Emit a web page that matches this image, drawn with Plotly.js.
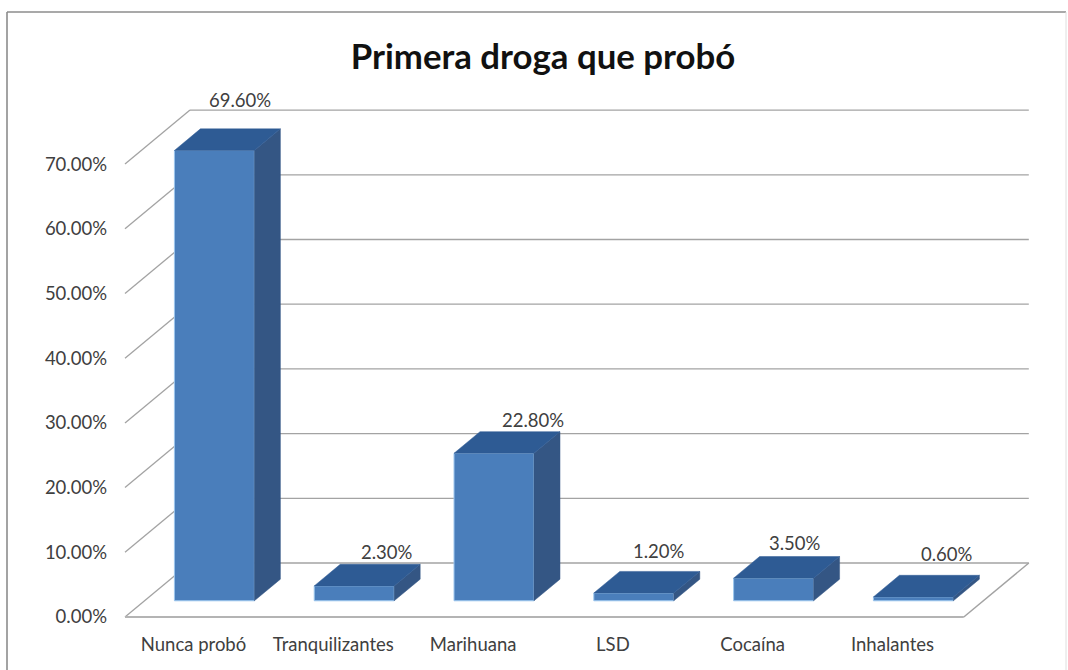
<!DOCTYPE html>
<html><head><meta charset="utf-8">
<script src="https://cdn.plot.ly/plotly-3.0.1.min.js"></script>
<style>html,body{margin:0;padding:0;background:#fff;overflow:hidden}#chart{width:1068px;height:670px}</style>
</head><body><div id="chart"></div>
<script>
const categories = ["Nunca probó","Tranquilizantes","Marihuana","LSD","Cocaína","Inhalantes"];
const values = [69.6,2.3,22.8,1.2,3.5,0.6];
const yTicks = [0,10,20,30,40,50,60,70];
const titleText = "Primera droga que probó";

// Hand placement of the data labels, in pixels from each bar's back top corner area
const labelShiftX = [0,7,13,-1,-5,8];
const labelShiftY = [29,12,12,20,14,21];

// Oblique projection of the floor, in axis units
const DEPTH_X = 0.465, DEPTH_Y = 8.35;
const BAR_W = 0.572, GAP = 0.3, BAR_D = 0.4;

const W = 1068, H = 670, M = {l:112,r:28,t:100,b:42};
const FONT = "Lato, 'Noto Sans', sans-serif";
const TEXT_SIZE = 18.5;
const px = x => (x - M.l) / (W - M.l - M.r);
const py = y => 1 - (y - M.t) / (H - M.t - M.b);

const FRONT = "#4a7ebb", TOP = "#2e5b94", SIDE = "#345684", GRID = "#a3a3a3";
const baseY = GAP * DEPTH_Y, dx = BAR_D * DEPTH_X, dy = BAR_D * DEPTH_Y;
const xc = categories.map((_, i) => i + 0.5 + GAP * DEPTH_X);

const poly = (xs, ys, color) => ({type:"scatter", mode:"lines", x:[...xs, xs[0]], y:[...ys, ys[0]],
  fill:"toself", fillcolor:color, line:{color:color, width:0.5}, hoverinfo:"skip", showlegend:false});

const traces = [{
  type:"bar", x:xc, y:values, base:values.map(() => baseY), width:BAR_W,
  marker:{color:FRONT, line:{color:"#9cc6ee", width:1}}, hoverinfo:"x+y", showlegend:false
}];
values.forEach((v, i) => {
  const l = xc[i] - BAR_W/2, r = xc[i] + BAR_W/2, t = baseY + v;
  traces.push(poly([r, r, r+dx, r+dx], [baseY, t, t+dy, baseY+dy], SIDE));
  traces.push(poly([l, r, r+dx, l+dx], [t, t, t+dy, t+dy], TOP));
});

const seg = (x0,y0,x1,y1,w,c) => ({type:"line", xref:"x", yref:"y", x0, y0, x1, y1, layer:"below",
  line:{color:c||GRID, width:w||1.3}});
const n = categories.length;
const shapes = [];
yTicks.forEach(v => {
  shapes.push(seg(0, v, DEPTH_X, v + DEPTH_Y));
  shapes.push(seg(DEPTH_X, v + DEPTH_Y, n + DEPTH_X, v + DEPTH_Y));
});
shapes.push(seg(0, 0, n, 0, 2.2, "#b4b4b4"));
shapes.push(seg(n, 0, n + DEPTH_X, DEPTH_Y, 1.5));
// chart frame
const frame = (x0,y0,x1,y1,c,w) => ({type:"line", xref:"paper", yref:"paper", x0:px(x0), y0:py(y0), x1:px(x1), y1:py(y1), line:{color:c, width:w}});
shapes.push(frame(7,12,1066,12,"#8c8c8c",1.6));
shapes.push(frame(7,12,7,670,"#8c8c8c",1.6));
shapes.push(frame(1066,12,1066,670,"#dedede",1));

const annotations = values.map((v, i) => ({
  x: xc[i] + dx, y: baseY + v + dy, xref:"x", yref:"y",
  text: v.toFixed(2) + "%", showarrow:false, xanchor:"center", yanchor:"middle",
  xshift: labelShiftX[i], yshift: labelShiftY[i],
  font:{family:FONT, size:TEXT_SIZE, color:"#404040"}
}));

const layout = {
  width:W, height:H, margin:{...M, pad:0}, paper_bgcolor:"#fff", plot_bgcolor:"#fff", showlegend:false,
  title:{text:titleText, x:543/W, xanchor:"center", y:1-57/H, yanchor:"middle",
    font:{family:FONT, size:34.8, color:"#111", weight:700}},
  xaxis:{type:"linear", range:[(M.l-125)/139.8,(W-M.r-125)/139.8], tickmode:"array",
    tickvals:categories.map((_, i) => i + 0.49), ticktext:categories, ticks:"", showgrid:false, zeroline:false, showline:false,
    tickfont:{family:FONT, size:TEXT_SIZE, color:"#404040"}, ticklabelstandoff:3, fixedrange:true},
  yaxis:{type:"linear", range:[-(H-M.b-617)/6.47,(617-M.t)/6.47], tickmode:"array",
    tickvals:yTicks, ticktext:yTicks.map(v => v.toFixed(2) + "%"), ticks:"", showgrid:false, zeroline:false, showline:false,
    tickfont:{family:FONT, size:TEXT_SIZE, color:"#404040"}, ticklabelstandoff:4, fixedrange:true},
  shapes, annotations
};
Plotly.newPlot("chart", traces, layout, {displayModeBar:false, staticPlot:true});
</script></body></html>
